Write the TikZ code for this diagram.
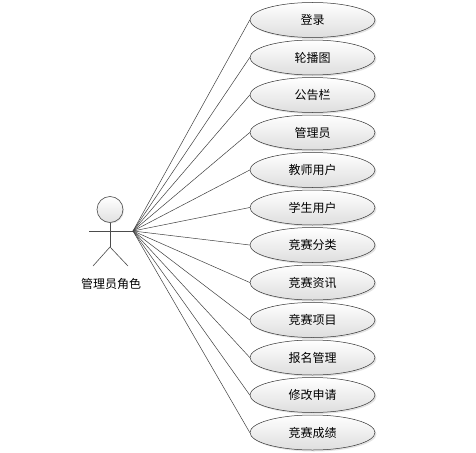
\documentclass[tikz,border=0pt]{standalone}
\usepackage{fontspec}
\newfontfamily\cjk{Noto Sans CJK SC}
\usetikzlibrary{positioning,shapes.geometric,shadows}
\tikzset{
  usecase/.style={ellipse,draw=black!80,line width=0.5pt,minimum width=125pt,minimum height=35pt,
    inner sep=0pt,top color=white,bottom color=black!13,
    drop shadow={opacity=0.22,shadow xshift=1.5pt,shadow yshift=-1.5pt},
    font=\cjk\fontsize{12}{14}\selectfont},
  link/.style={draw=black!75,line width=0.5pt},
  stick/.style={draw=black!70,line width=0.6pt},
  lab/.style={font=\cjk\fontsize{12}{14}\selectfont,inner sep=1pt},
}

\begin{document}
\begin{tikzpicture}[x=1pt,y=-1pt]
\useasboundingbox[fill=white] (0,0) rectangle (476,452);
% actor
\node[circle,stick,minimum size=26pt,inner sep=0pt,top color=white,bottom color=black!12,
  drop shadow={opacity=0.18,shadow xshift=1pt,shadow yshift=-1pt}] (head) at (110,209.5) {};
\coordinate (hip) at (110,247);
\coordinate (lhand) at (89,231);
\coordinate (hand) at (133,231);
\coordinate (lfoot) at (93,266);
\coordinate (rfoot) at (128,266);
\draw[stick] (head.south) -- (hip);
\draw[stick] (lhand) -- (hand);
\draw[stick] (lfoot) -- (hip) -- (rfoot);
\node[lab] (role) at (111,284) {管理员角色};
% use cases
\foreach \t [count=\i] in {登录,轮播图,公告栏,管理员,教师用户,学生用户,竞赛分类,竞赛资讯,竞赛项目,报名管理,修改申请,竞赛成绩}
  \node[usecase] (uc\i) at (312.5,{20+(\i-1)*37.5}) {\t};
\foreach \i in {1,...,12} \draw[link] (hand) -- (uc\i.west);
\end{tikzpicture}
\end{document}
